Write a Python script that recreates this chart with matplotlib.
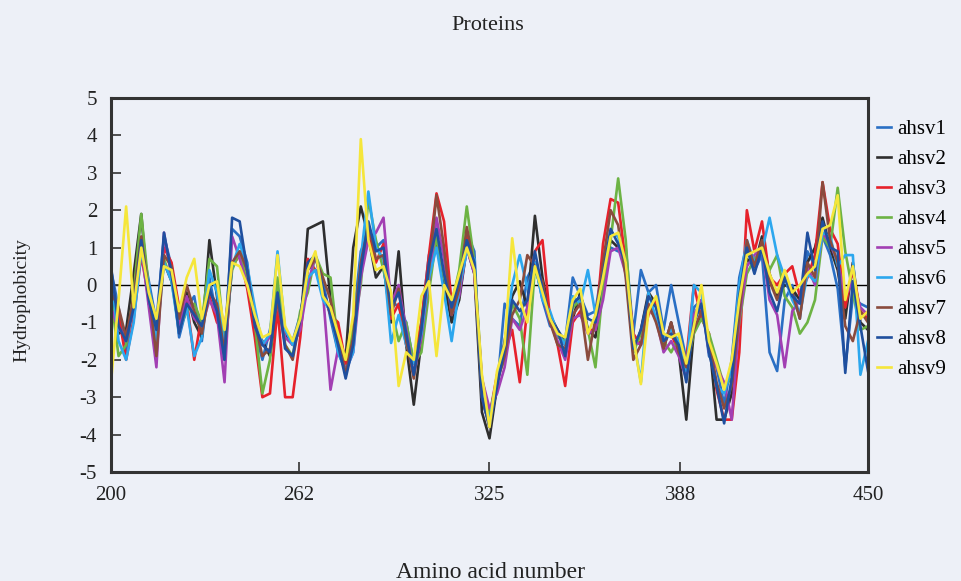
import numpy as np
import matplotlib
matplotlib.use("Agg")
import matplotlib.pyplot as plt

plt.rcParams['font.family'] = ['Liberation Serif', 'DejaVu Serif']
plt.rcParams['axes.unicode_minus'] = False

# amino acid positions, every 2.5 residues from 200 to 450
aa = np.linspace(200, 450, 101)

ahsv1 = [0.4, -0.6, -1.8, -0.2, 1.2, 0.1, -1.0, 1.3, 0.5, -1.4,
         -0.6, -0.3, -1.5, 0.2, -0.9, -1.6, 1.5, 1.3, 0.6, -1.2,
         -2.0, -1.2, -0.1, -1.2, -1.5, -0.8, 0.5, 0.4, 0.1, -0.9,
         -1.8, -2.3, -1.0, 0.9, 1.4, 1.0, 1.2, -0.4, -0.6, -1.0,
         -2.1, -1.0, 0.8, 1.3, 0.0, -0.9, 0.2, 1.4, 0.9, -3.1,
         -3.7, -2.8, -0.5, -0.9, -1.1, 0.2, 0.6, -0.4, -1.1, -1.2,
         -1.5, 0.2, -0.3, -0.8, -0.7, 0.6, 1.0, 0.9, 1.0, -1.3,
         0.4, -0.2, 0.0, -1.2, 0.0, -1.0, -2.0, -0.6, -0.4, -1.9,
         -2.2, -3.2, -2.0, 0.2, 1.1, 0.4, 0.8, -1.8, -2.3, -0.4,
         0.0, -0.9, 0.9, 0.5, 1.3, 0.8, -0.1, -2.2, -0.3, -0.5,
         -0.6]
ahsv2 = [-0.2, -1.3, -1.2, 0.3, 1.9, -0.5, -1.1, 0.6, 0.1, -0.8,
         -0.2, -1.0, -1.4, 1.2, -0.3, -2.0, 0.6, 0.8, 0.2, -1.1,
         -1.5, -1.9, -0.5, -1.3, -1.6, -1.2, 1.5, 1.6, 1.7, -0.4,
         -1.3, -2.0, 1.0, 2.1, 1.3, 0.2, 0.5, -1.0, 0.9, -1.6,
         -3.2, -1.5, 0.2, 1.2, 0.1, -1.0, -0.4, 1.0, 0.3, -3.4,
         -4.1, -2.7, -1.5, -0.3, 0.1, -0.6, 1.85, 0.2, -0.8, -1.2,
         -1.6, -0.9, -0.2, -1.2, -1.4, 0.0, 1.2, 1.0, 0.8, -1.8,
         -1.2, -0.2, -0.5, -1.7, -1.0, -1.8, -3.6, -1.2, -0.8, -1.4,
         -3.6, -3.6, -2.9, -0.4, 0.7, 0.5, 1.3, 0.3, -0.3, 0.0,
         -0.1, -0.4, 0.6, 1.0, 1.8, 1.0, 0.4, -0.9, 0.6, -1.0,
         -1.2]
ahsv3 = [0.1, -0.8, -2.0, -0.9, 0.8, -0.4, -1.5, 1.0, 0.6, -0.6,
         -0.4, -2.0, -0.8, -0.3, -1.0, -1.2, 0.5, 0.8, -0.1, -1.4,
         -3.0, -2.9, -0.6, -3.0, -3.0, -1.4, 0.7, 0.4, -0.2, -0.8,
         -1.0, -2.1, -1.3, 0.3, 1.4, 0.6, 1.1, -0.9, -0.5, -1.6,
         -2.0, -1.0, 0.8, 2.45, 1.7, -0.5, 0.1, 1.3, 0.4, -2.6,
         -3.5, -2.4, -1.8, -1.2, -2.6, -0.6, 0.9, 1.2, -0.9, -1.6,
         -2.7, -1.0, -0.7, -1.2, -1.2, 1.1, 2.3, 2.2, 0.6, -1.3,
         -1.6, -0.8, -0.4, -1.4, -1.3, -1.8, -2.0, 0.0, -0.9, -1.3,
         -2.8, -3.6, -3.6, -1.8, 2.0, 0.9, 1.7, 0.2, 0.0, 0.3,
         0.5, -0.3, 0.2, 0.8, 2.75, 1.5, 1.1, -0.6, 0.4, -0.7,
         -0.9]
ahsv4 = [-0.3, -1.9, -1.6, -0.2, 1.9, -0.1, -1.2, 0.7, 0.1, -1.2,
         -0.7, -0.5, -1.0, 0.7, 0.5, -1.5, 0.4, 0.9, 0.1, -1.0,
         -2.9, -2.0, 0.2, -1.6, -1.9, -0.7, -0.2, 0.8, 0.3, 0.2,
         -1.6, -2.0, -1.2, 0.0, 2.3, 1.2, 0.4, -0.6, -1.5, -1.0,
         -2.1, -1.8, -0.2, 1.3, 0.2, -0.5, 0.4, 2.1, 0.6, -2.5,
         -3.5, -2.5, -2.0, -0.5, -0.9, -2.4, 0.5, -0.3, -0.8, -1.4,
         -1.5, -0.6, -0.4, -1.2, -2.2, 0.0, 1.2, 2.85, 1.2, -1.8,
         -1.3, -0.6, -0.9, -1.5, -1.8, -1.4, -2.2, -1.3, -0.9, -1.3,
         -2.0, -2.7, -2.5, -1.0, 0.3, 0.7, 0.9, 0.4, 0.8, -0.3,
         -0.6, -1.3, -1.0, -0.4, 1.3, 1.0, 2.6, 0.9, -0.2, -1.2,
         -1.1]
ahsv5 = [-0.6, -1.2, -1.3, -0.7, 1.0, -0.6, -2.2, 1.4, 0.2, -1.1,
         -0.3, -0.9, -1.1, -0.4, -0.8, -2.6, 1.3, 0.7, 0.0, -0.7,
         -1.6, -1.4, -0.5, -1.4, -1.6, -1.2, 0.0, 0.8, -0.2, -2.8,
         -1.7, -2.3, -1.8, 0.2, 1.2, 1.4, 1.8, -0.5, 0.0, -1.2,
         -2.4, -1.4, 0.1, 1.8, 0.7, -0.8, -0.3, 1.0, 0.3, -2.5,
         -3.3, -2.9, -2.2, -0.9, -1.2, -0.6, 0.6, -0.2, -1.0, -1.5,
         -2.0, -0.9, -0.8, -1.3, -1.2, -0.4, 0.9, 1.0, 0.3, -1.5,
         -1.6, -0.6, -0.9, -1.8, -1.5, -1.9, -2.5, -0.8, -0.4, -1.8,
         -2.2, -2.6, -3.6, -0.9, 0.5, 0.8, 1.0, -0.4, -0.8, -2.2,
         -0.7, -0.4, 0.5, 0.0, 1.4, 1.1, 0.6, -0.3, 0.1, -0.6,
         -0.8]
ahsv6 = [0.3, -1.5, -2.0, -1.0, 0.9, 0.0, -1.5, 0.6, 0.1, -1.3,
         -0.6, -1.9, -1.4, 0.4, -0.2, -1.7, 0.5, 1.1, 0.5, -0.6,
         -1.6, -1.3, 0.9, -1.2, -1.6, -0.9, 0.2, 0.4, -0.4, -0.7,
         -1.8, -2.3, -1.8, 0.7, 2.5, 1.0, 0.7, -1.55, -0.8, -1.6,
         -2.1, -1.3, 0.2, 1.0, -0.2, -1.5, -0.1, 0.9, 0.7, -2.9,
         -3.6, -2.5, -1.6, 0.0, 0.8, -0.1, 0.6, -0.4, -0.7, -1.3,
         -1.6, -0.3, -0.5, 0.4, -0.8, 0.3, 1.4, 1.3, 0.4, -1.4,
         -2.6, -0.2, -0.9, -1.4, -1.2, -1.5, -2.3, 0.0, -0.2, -1.6,
         -2.7, -2.9, -2.2, 0.0, 1.2, 0.6, 0.9, 1.8, 0.8, 0.2,
         -0.4, -0.8, 0.3, 0.1, 1.4, 1.3, 0.5, 0.8, 0.8, -2.4,
         -1.5]
ahsv7 = [-0.2, -0.6, -1.4, -0.3, 1.3, -0.2, -1.9, 0.8, 0.5, -0.9,
         0.0, -0.7, -1.3, -0.2, -0.5, -1.8, 0.6, 0.9, 0.4, -1.0,
         -1.9, -1.7, -0.4, -1.6, -2.0, -0.9, 0.4, 0.7, 0.2, -0.4,
         -1.4, -2.4, -1.4, 0.6, 1.6, 0.7, 0.8, -0.8, -0.1, -1.5,
         -2.5, -1.1, 0.4, 2.4, 1.0, -0.8, -0.1, 1.55, 0.5, -3.0,
         -3.8, -2.6, -1.9, -0.8, -0.4, 0.8, 0.5, 0.1, -1.0, -1.6,
         -1.7, -0.8, -0.5, -2.0, -0.9, 0.6, 2.0, 1.6, 0.2, -2.0,
         -1.6, -0.5, -1.0, -1.7, -1.0, -1.8, -2.2, -1.2, -0.7, -1.5,
         -2.6, -3.3, -2.7, -0.8, 1.2, 0.5, 1.2, 0.1, -0.4, 0.2,
         -0.2, -0.9, 0.6, 0.2, 2.75, 1.2, 0.6, -1.1, -1.5, -0.7,
         -1.0]
ahsv8 = [0.5, -1.1, -1.5, -0.6, 1.2, -0.4, -1.2, 1.4, 0.3, -1.3,
         -0.5, -0.8, -1.1, -0.1, -0.7, -2.0, 1.8, 1.7, 0.4, -1.1,
         -1.6, -1.8, -0.2, -1.7, -1.9, -0.9, 0.6, 0.8, -0.1, -0.8,
         -1.6, -2.5, -1.6, 0.4, 1.7, 0.9, 1.0, -0.6, -0.2, -1.3,
         -2.4, -1.2, 0.6, 1.5, 0.3, -0.6, 0.1, 1.2, 0.6, -3.0,
         -3.8, -2.7, -1.7, -0.4, -0.7, -0.4, 0.9, -0.1, -0.9, -1.2,
         -1.9, -0.5, -0.3, -0.9, -1.0, 0.3, 1.5, 1.1, 0.6, -1.7,
         -1.2, -0.3, -0.6, -1.5, -1.3, -1.6, -2.6, -1.0, -0.5, -1.8,
         -2.7, -3.7, -2.5, -0.3, 1.0, 0.3, 1.0, -0.2, -0.7, 0.2,
         -0.3, -0.5, 1.4, 0.4, 1.7, 1.0, 0.9, -2.35, 0.1, -1.1,
         -2.3]
ahsv9 = [-2.6, -0.4, 2.1, -0.6, 1.0, -0.2, -0.9, 0.5, 0.4, -0.7,
         0.2, 0.7, -0.9, 0.0, 0.1, -1.2, 0.6, 0.5, 0.0, -0.8,
         -1.4, -1.3, 0.8, -1.1, -1.5, -0.9, 0.4, 0.9, -0.3, -0.6,
         -1.3, -2.0, -0.8, 3.9, 1.2, 0.4, 0.5, -0.2, -2.7, -1.8,
         -2.0, -0.3, 0.1, -1.9, 0.0, -0.4, 0.3, 1.0, 0.4, -2.4,
         -3.8, -2.3, -1.6, 1.25, -0.4, -1.0, 0.5, -0.2, -0.9, -1.3,
         -1.4, -0.4, -0.1, -1.3, -0.8, 0.2, 1.3, 1.4, 0.6, -1.4,
         -2.65, -0.7, -0.3, -1.3, -1.4, -1.3, -2.1, -1.1, 0.0, -1.5,
         -2.1, -2.8, -2.0, -0.4, 0.8, 0.9, 1.0, 0.3, -0.2, 0.4,
         -0.2, 0.0, 0.3, 0.5, 1.5, 1.6, 2.4, -0.4, 0.5, -0.9,
         -0.7]

series = [ahsv1, ahsv2, ahsv3, ahsv4, ahsv5, ahsv6, ahsv7, ahsv8, ahsv9]
names = ["ahsv1", "ahsv2", "ahsv3", "ahsv4", "ahsv5",
         "ahsv6", "ahsv7", "ahsv8", "ahsv9"]
colors = ["#2a6fc4", "#2e2e2e", "#e6212b", "#6db344", "#a23fb3",
          "#2ca7ee", "#8a4b3d", "#1f4f9e", "#f5e63b"]

xticks = [200, 262, 325, 388, 450]
yticks = list(range(-5, 6))

bg = "#edf0f7"
fig = plt.figure(figsize=(9.61, 5.81), dpi=100, facecolor=bg)
ax = fig.add_axes([0.1155, 0.1876, 0.7877, 0.6437], facecolor=bg)

for vals, name, col in zip(series, names, colors):
    ax.plot(aa, vals, color=col, lw=1.9, label=name)

ax.axhline(0, color="black", lw=1.0, zorder=1)

ax.set_xlim(200, 450)
ax.set_ylim(-5, 5)
ax.set_xticks(xticks)
ax.set_yticks(yticks)
ax.tick_params(direction="in", length=7, width=1.2, colors="#333333",
               labelcolor="#222222", labelsize=15, pad=10)

for sp in ax.spines.values():
    sp.set_linewidth(2.2)
    sp.set_color("#333333")

ax.legend(loc="upper left", bbox_to_anchor=(1.012, 0.943), frameon=False,
          fontsize=15, handlelength=0.65, handletextpad=0.3,
          labelspacing=0.5, borderpad=0, borderaxespad=0)

fig.text(0.508, 1 - 25 / 581, "Proteins", ha="center", va="center",
         fontsize=16, fontstretch="condensed", color="#222222")
fig.text(0.023, 1 - 300 / 581, "Hydrophobicity", ha="center", va="center",
         rotation=90, fontsize=14, color="#222222")
fig.text(0.51, 1 - 572 / 581, "Amino acid number", ha="center", va="center",
         fontsize=17, color="#222222")

fig.savefig("out.png", dpi=100, facecolor=bg)
